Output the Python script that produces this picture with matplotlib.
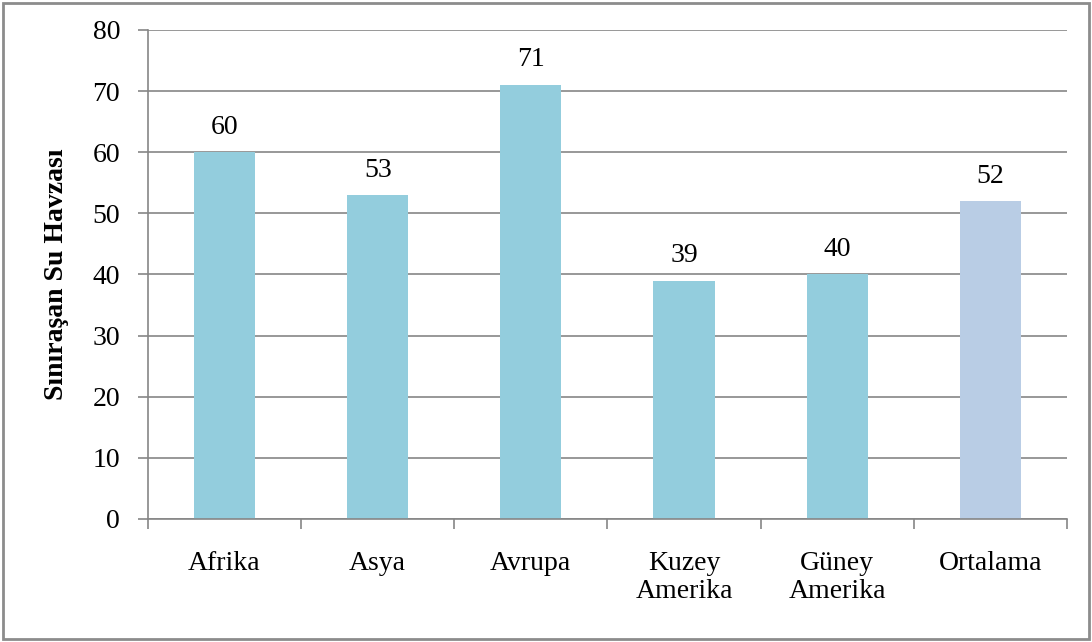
import matplotlib
matplotlib.use('Agg')
import matplotlib.pyplot as plt
from matplotlib.patches import Rectangle
import numpy as np

categories = ['Afrika', 'Asya', 'Avrupa', 'Kuzey\nAmerika', 'Güney\nAmerika', 'Ortalama']
values = [60, 53, 71, 39, 40, 52]
bar_colors = ['#93CDDD'] * 5 + ['#B9CDE5']
y_ticks = [0, 10, 20, 30, 40, 50, 60, 70, 80]

plt.rcParams['font.family'] = ['Liberation Serif', 'DejaVu Serif']

fig = plt.figure(figsize=(10.92, 6.42), dpi=100)
ax = fig.add_axes([0.1355, 0.1916, 0.8415, 0.7617])

x = np.arange(len(categories))
ax.bar(x, values, width=0.4, color=bar_colors, zorder=2)

for xi, v in zip(x, values):
    ax.annotate(str(v), (xi, v), xytext=(0, 9), textcoords='offset points',
                ha='center', va='bottom', fontsize=20)

ax.set_xlim(-0.5, len(categories) - 0.5)
ax.set_ylim(0, 80)
ax.set_yticks(y_ticks)
ax.yaxis.grid(True, color='#868686', linewidth=1.2, zorder=0)
ax.set_axisbelow(True)

ax.set_xticks(x)
ax.set_xticklabels(categories, fontsize=20, linespacing=1.15)
ax.set_xticks(np.arange(-0.5, len(categories)), minor=True)
ax.tick_params(axis='x', which='major', length=0, pad=23)
ax.tick_params(axis='x', which='minor', length=7, color='#868686', width=1.2)
ax.tick_params(axis='y', length=7, color='#868686', width=1.2, labelsize=20, pad=13)

for s in ['top', 'right']:
    ax.spines[s].set_visible(False)
for s in ['left', 'bottom']:
    ax.spines[s].set_color('#868686')
    ax.spines[s].set_linewidth(1.2)

ax.set_ylabel('Sınıraşan Su Havzası', fontsize=20, fontweight='bold', labelpad=17)

fig.patches.append(Rectangle((0.003, 0.004), 0.994, 0.992, transform=fig.transFigure,
                             fill=False, edgecolor='#8C8C8C', linewidth=2))

fig.savefig('out.png', dpi=100)
